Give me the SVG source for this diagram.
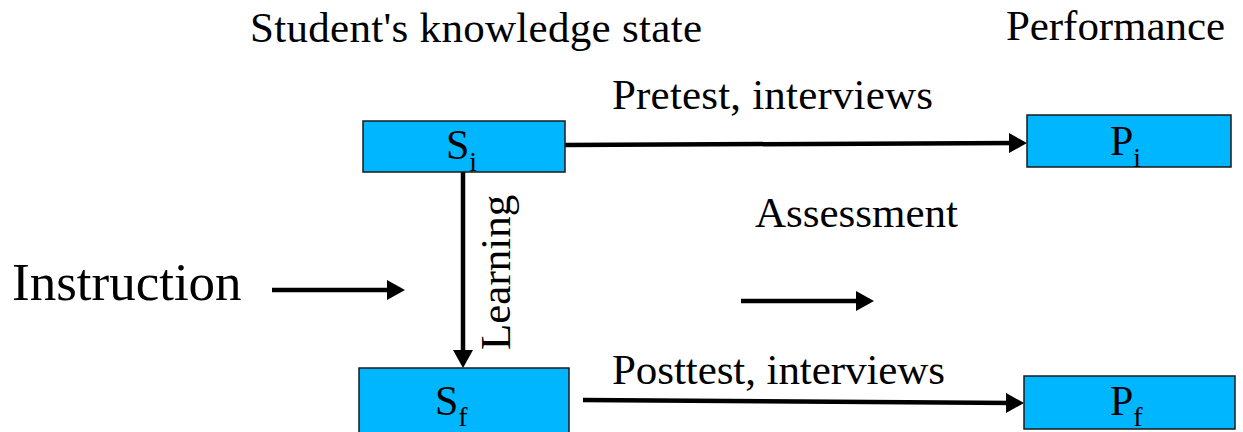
<svg xmlns="http://www.w3.org/2000/svg" width="1243" height="432" viewBox="0 0 1243 432">
<style>
text{font-family:"Liberation Serif","Times New Roman",serif;fill:#000}
.lbl{font-size:43px}
.box{fill:#00B7FF;stroke:#1a1a1a;stroke-width:1.5}
.nl{font-size:42px}
.sub{font-size:28px}
.ar{stroke:#000;stroke-width:4.5;fill:none;marker-end:url(#ah)}
</style>
<defs>
<marker id="ah" markerUnits="userSpaceOnUse" markerWidth="18" markerHeight="20" refX="8" refY="10" orient="auto">
<path d="M0,0 L18,10 L0,20 z" fill="#000"/>
</marker>
</defs>
<rect width="1243" height="432" fill="#fff"/>
<text class="lbl" x="250" y="42" font-size="44" textLength="452" lengthAdjust="spacing">Student's knowledge state</text>
<text class="lbl" x="1006" y="40" textLength="219" lengthAdjust="spacing">Performance</text>
<text x="12" y="300" font-size="53">Instruction</text>
<text class="lbl" x="755" y="227">Assessment</text>
<g id="connectors">
<line class="ar" x1="565" y1="145" x2="1017" y2="143"/>
<text class="lbl" x="612" y="109" textLength="321" lengthAdjust="spacing">Pretest, interviews</text>
<line class="ar" x1="463" y1="172" x2="463" y2="358"/>
<text class="lbl" transform="translate(510,350) rotate(-90)">Learning</text>
<line class="ar" x1="583" y1="400" x2="1014" y2="403"/>
<text class="lbl" x="612" y="384" textLength="333" lengthAdjust="spacing">Posttest, interviews</text>
<line class="ar" x1="272" y1="290" x2="395" y2="290"/>
<line class="ar" x1="741" y1="301" x2="864" y2="301"/>
</g>
<g id="Si">
<rect class="box" x="363" y="121" width="202" height="51"/>
<text class="nl" x="446" y="159">S<tspan class="sub" dy="12">i</tspan></text>
</g>
<g id="Pi">
<rect class="box" x="1027" y="115" width="204" height="52"/>
<text class="nl" x="1110" y="155">P<tspan class="sub" dy="12">i</tspan></text>
</g>
<g id="Sf">
<rect class="box" x="359" y="368" width="210" height="70"/>
<text class="nl" x="435" y="415">S<tspan class="sub" dy="11">f</tspan></text>
</g>
<g id="Pf">
<rect class="box" x="1024" y="376" width="211" height="53"/>
<text class="nl" x="1110" y="415">P<tspan class="sub" dy="11">f</tspan></text>
</g>
</svg>
